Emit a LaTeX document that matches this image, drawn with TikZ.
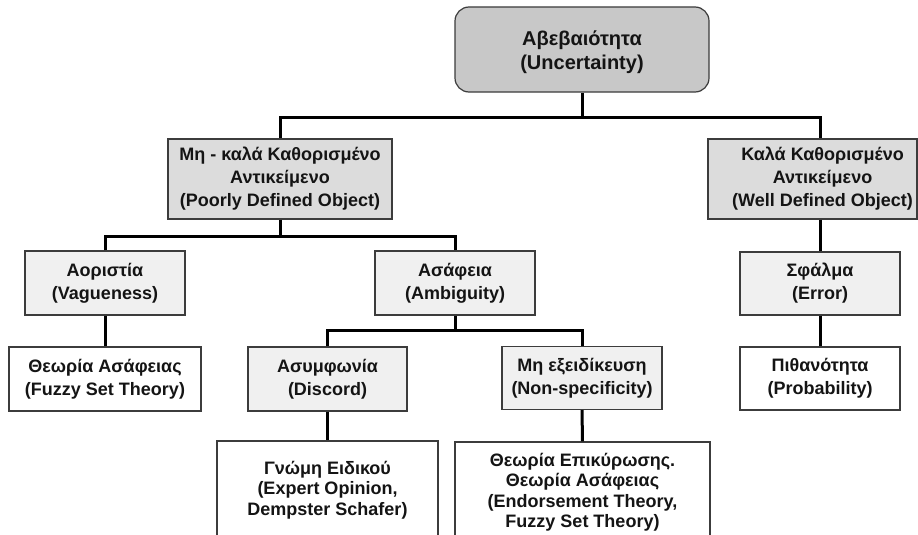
\documentclass[tikz,border=0pt]{standalone}
\usepackage{fontspec}
\setmainfont{Liberation Sans}
\definecolor{rootfill}{HTML}{C8C8C8}
\definecolor{midfill}{HTML}{DCDCDC}
\definecolor{lightfill}{HTML}{F0F0F0}
\definecolor{boxline}{HTML}{3C3C3C}
\definecolor{txt}{HTML}{141414}
\begin{document}
\begin{tikzpicture}[x=1pt,y=-1pt,
  box/.style={draw=boxline, line width=1.2pt, inner sep=0pt, align=center,
    text=txt, font=\bfseries\fontsize{18pt}{23pt}\selectfont},
  rootbox/.style={box, fill=rootfill, rounded corners=14pt,
    font=\bfseries\fontsize{20pt}{24pt}\selectfont},
  midbox/.style={box, fill=midfill},
  lightbox/.style={box, fill=lightfill},
  leafbox/.style={box, fill=white},
  tallbox/.style={leafbox, font=\bfseries\fontsize{18pt}{20.5pt}\selectfont},
  plain/.style={inner sep=0pt, align=center, text=txt,
    font=\bfseries\fontsize{18pt}{23pt}\selectfont},
  wire/.style={line width=3pt, black}]
\useasboundingbox (0,0) rectangle (918,535);
\clip (0,0) rectangle (918,535);
\fill[white] (0,0) rectangle (918,535);

% top level
\node[rootbox, minimum width=254pt, minimum height=85pt] (root) at (582,49.5) {};
\node[plain, font=\bfseries\fontsize{20pt}{24pt}\selectfont] (roott) at (582,52)
  {Αβεβαιότητα\\(Uncertainty)};

% object classes
\node[midbox, minimum width=224pt, minimum height=80pt] (poorly) at (280,179)
  {Μη - καλά Καθορισμένο\\Αντικείμενο\\(Poorly Defined Object)};
\node[midbox, minimum width=209pt, minimum height=80pt] (well) at (812.5,179) {};
\node[plain] (wellt) at (822.5,179)
  {Καλά Καθορισμένο\\Αντικείμενο\\(Well Defined Object)};

% kinds of uncertainty
\node[lightbox, minimum width=160pt, minimum height=64pt] (vag) at (105,283)
  {Αοριστία\\(Vagueness)};
\node[lightbox, minimum width=160pt, minimum height=64pt] (amb) at (455,283)
  {Ασάφεια\\(Ambiguity)};
\node[lightbox, minimum width=160pt, minimum height=63pt] (err) at (820,283.5)
  {Σφάλμα\\(Error)};

\node[lightbox, minimum width=159pt, minimum height=64pt] (disc) at (327.5,379)
  {Ασυμφωνία\\(Discord)};
\node[lightbox, minimum width=160pt, minimum height=63pt] (nons) at (582,378)
  {Μη εξειδίκευση\\(Non-specificity)};

% theories
\node[leafbox, minimum width=192pt, minimum height=64pt] (fuzzy) at (105,379)
  {Θεωρία Ασάφειας\\(Fuzzy Set Theory)};
\node[leafbox, minimum width=160pt, minimum height=63pt] (prob) at (820,378.5)
  {Πιθανότητα\\(Probability)};
\node[tallbox, minimum width=221pt, minimum height=98pt] (expert) at (327.5,490)
  {Γνώμη Ειδικού\\(Expert Opinion,\\Dempster Schafer)};
\node[tallbox, minimum width=255pt, minimum height=100pt] (endo) at (582.5,492)
  {Θεωρία Επικύρωσης.\\Θεωρία Ασάφειας\\(Endorsement Theory,\\Fuzzy Set Theory)};

% connectors
\coordinate (j0) at (582,117);
\coordinate (j1) at (280,236);
\coordinate (j2) at (455,330);
\draw[wire] (root.south) -- (j0);
\draw[wire] (poorly.north) |- (j0) -| (err.north |- well.north);
\draw[wire] (err.north |- well.south) -- (err.north);
\draw[wire] (poorly.south) -- (j1);
\draw[wire] (vag.north) |- (j1) -| (amb.north);
\draw[wire] (vag.south) -- (fuzzy.north);
\draw[wire] (amb.south) -- (j2);
\draw[wire] (disc.north) |- (j2) -| (nons.north);
\draw[wire] (disc.south) -- (expert.north);
\draw[wire] (nons.south) -- (endo.north);
\draw[wire] (err.south) -- (prob.north);
\end{tikzpicture}
\end{document}
